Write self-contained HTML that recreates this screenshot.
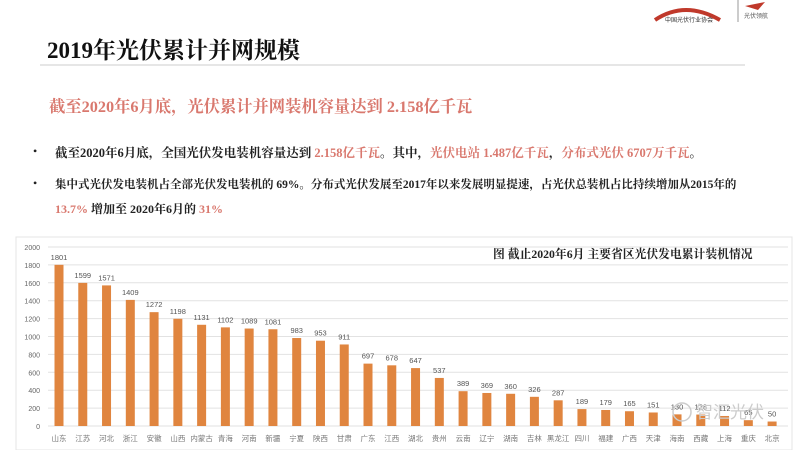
<!DOCTYPE html>
<html><head><meta charset="utf-8">
<style>
body{margin:0;width:800px;height:450px;overflow:hidden;background:#fff;font-family:"Liberation Serif","Noto Serif CJK SC",serif;position:relative}
.t{position:absolute;white-space:nowrap}
.r{color:#d9786e}
</style></head><body>
<div class="t" style="left:47px;top:32px;font-size:23px;font-weight:bold;color:#111">2019年光伏累计并网规模</div>
<div style="position:absolute;left:40px;top:64px;width:705px;height:2px;background:#e6e6e6"></div>
<svg style="position:absolute;left:640px;top:0" width="160" height="25"><path d="M15 20 Q45 0 80 20" stroke="#c0392b" stroke-width="4" fill="none"/><text x="25" y="22" font-size="6" fill="#333" font-family="Noto Sans CJK SC">中国光伏行业协会</text><line x1="98" y1="0" x2="98" y2="22" stroke="#999"/><path d="M105 6 L125 2 L118 10Z" fill="#c0392b"/><text x="104" y="18" font-size="6" fill="#555" font-family="Noto Sans CJK SC">光伏领航</text></svg>
<div class="t r" style="left:49px;top:93px;font-size:16.3px;font-weight:bold">截至2020年6月底，光伏累计并网装机容量达到 2.158亿千瓦</div>
<div class="t" style="left:33px;top:144px;font-size:12px;color:#222">•</div>
<div class="t" style="left:55px;top:143px;font-size:12.5px;font-weight:bold;color:#222">截至2020年6月底，全国光伏发电装机容量达到 <span class="r">2.158亿千瓦</span>。其中，<span class="r">光伏电站 1.487亿千瓦</span>，<span class="r">分布式光伏 6707万千瓦</span>。</div>
<div class="t" style="left:33px;top:176px;font-size:12px;color:#222">•</div>
<div class="t" style="left:55px;top:176px;font-size:11.5px;font-weight:bold;color:#222">集中式光伏发电装机占全部光伏发电装机的 69%。分布式光伏发展至2017年以来发展明显提速，占光伏总装机占比持续增加从2015年的</div>
<div class="t" style="left:55px;top:200px;font-size:12px;font-weight:bold;color:#222"><span class="r">13.7%</span> 增加至 2020年6月的 <span class="r">31%</span></div>
<svg style="position:absolute;left:0;top:0" width="800" height="450" id="c"></svg>
<script>
const v=[1801,1599,1571,1409,1272,1198,1131,1102,1089,1081,983,953,911,697,678,647,537,389,369,360,326,287,189,179,165,151,130,128,112,65,50];
const n=["山东","江苏","河北","浙江","安徽","山西","内蒙古","青海","河南","新疆","宁夏","陕西","甘肃","广东","江西","湖北","贵州","云南","辽宁","湖南","吉林","黑龙江","四川","福建","广西","天津","海南","西藏","上海","重庆","北京"];
let s='<rect x="16" y="237" width="776" height="213" fill="none" stroke="#e4e4e4"/>';
const y0=426,k=179/2000;
for(let i=0;i<=10;i++){const y=y0-i*200*k;s+=`<line x1="48" x2="788" y1="${y}" y2="${y}" stroke="#e2e2e2"/><text x="40" y="${y+3}" font-size="7" fill="#666" text-anchor="end" font-family="Liberation Sans">${i*200}</text>`;}
v.forEach((d,i)=>{const x=59+i*23.77,h=d*k;s+=`<rect x="${x-4.5}" y="${y0-h}" width="9" height="${h}" fill="#e0853f"/><text x="${x}" y="${y0-h-5}" font-size="7.5" fill="#555" text-anchor="middle" font-family="Liberation Sans">${d}</text><text x="${x}" y="441" font-size="7.5" fill="#777" text-anchor="middle" font-family="Noto Sans CJK SC">${n[i]}</text>`;});
s+='<text x="493" y="258" font-size="11.8" font-weight="bold" fill="#222" font-family="Liberation Serif,Noto Serif CJK SC,serif">图 截止2020年6月 主要省区光伏发电累计装机情况</text>';
s+='<text x="696" y="418" font-size="17" fill="#ccc" font-family="Noto Sans CJK SC">智汇光伏</text><circle cx="682" cy="412" r="9" fill="none" stroke="#ccc" stroke-width="1.5"/>';
document.getElementById('c').innerHTML=s;
</script>
</body></html>
